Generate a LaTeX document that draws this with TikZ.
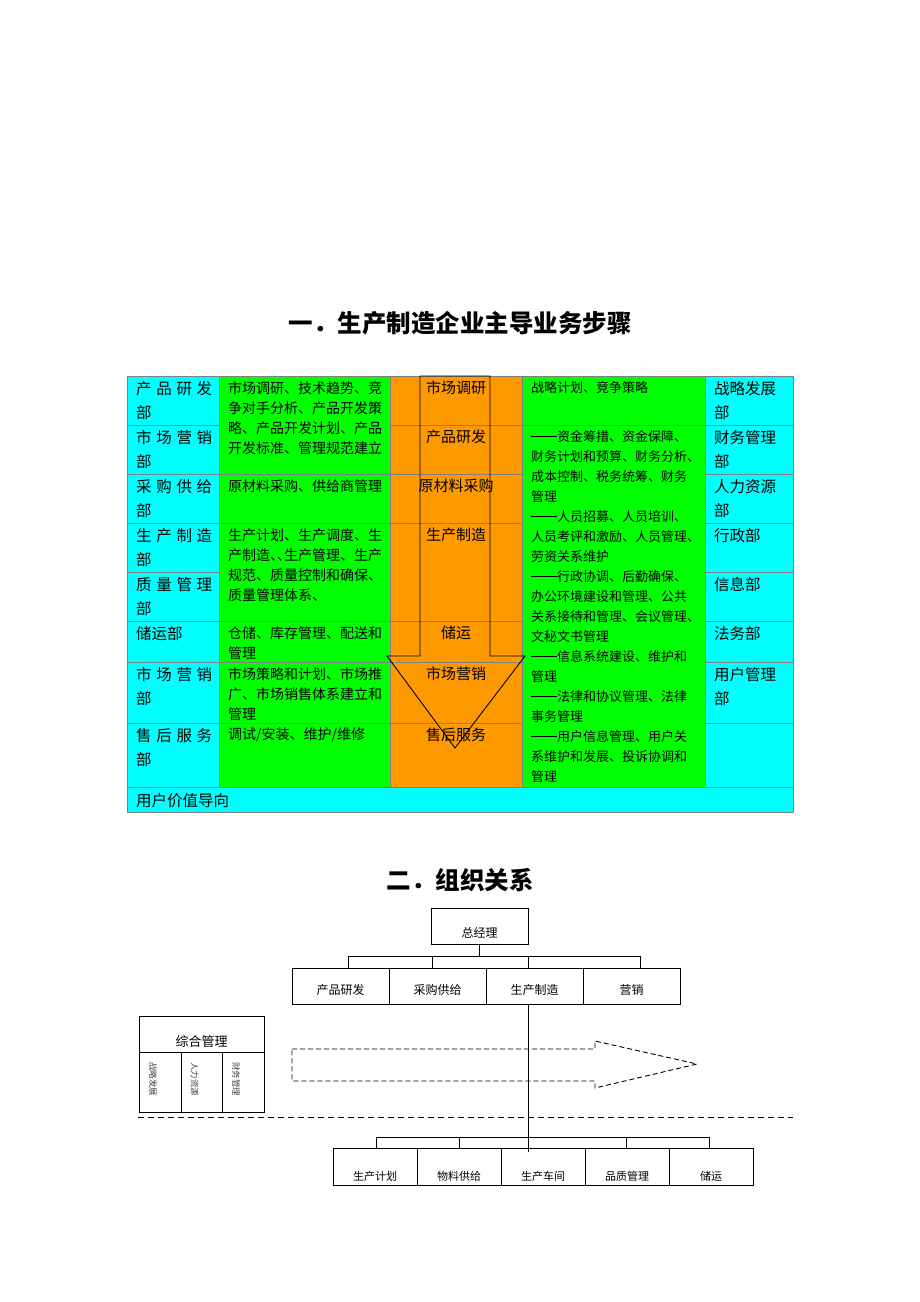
\documentclass[tikz,border=0pt]{standalone}
\usepackage{fontspec}
\setmainfont{Noto Sans CJK SC}
\usetikzlibrary{positioning}
\definecolor{cyanc}{RGB}{0,255,255}
\definecolor{greenc}{RGB}{0,255,0}
\definecolor{orangec}{RGB}{255,153,0}
\newcommand\spr[4]{\makebox[76pt]{#1\hfill #2\hfill #3\hfill #4}}
\newcommand\dsh{\rule[4.6pt]{26pt}{0.6pt}}

\begin{document}
\begin{tikzpicture}[x=1pt,y=-1pt,
 cell/.style = {draw=gray, line width=0.9pt, inner sep=0pt, outer sep=0pt, anchor=north west},
 cy/.style = {cell, fill=cyanc},
 gr/.style = {cell, fill=greenc},
 og/.style = {cell, fill=orangec},
 dept/.style = {anchor=north west, inner sep=0pt, align=left, font=\fontsize{15.5}{24}\selectfont},
 work/.style = {anchor=north west, inner sep=0pt, align=left, font=\fontsize{14}{20}\selectfont},
 duty/.style = {anchor=north west, inner sep=0pt, align=left, font=\fontsize{13}{20}\selectfont},
 stage/.style = {anchor=north, inner sep=0pt, font=\fontsize{15}{20}\selectfont},
 head/.style = {font=\fontsize{24.5}{24}\selectfont\bfseries},
 box/.style = {draw, line width=0.8pt, inner sep=0pt, outer sep=0pt, anchor=north west, text depth=0pt},
 unit/.style = {box, minimum width=97pt, minimum height=36pt, text height=17pt, font=\fontsize{12}{12}\selectfont},
 sub/.style = {box, minimum width=84pt, minimum height=37pt, text height=27pt, font=\fontsize{11}{11}\selectfont},
 tiny/.style = {rotate=-90, inner sep=0pt, text=gray!50!black, font=\fontsize{8.5}{9}\selectfont}]
\useasboundingbox (0,0) rectangle (920,1302);

% titles
\node[head] (title1) at (460,323) {一．生产制造企业主导业务步骤};
\node[head] (title2) at (460,880) {二．组织关系};

% table cells
\node[cy, minimum width=92pt, minimum height=49pt] (a1) at (127,376) {};
\node[cy, minimum width=92pt, minimum height=49pt] (a2) at (127,425) {};
\node[cy, minimum width=92pt, minimum height=49pt] (a3) at (127,474) {};
\node[cy, minimum width=92pt, minimum height=49pt] (a4) at (127,523) {};
\node[cy, minimum width=92pt, minimum height=49pt] (a5) at (127,572) {};
\node[cy, minimum width=92pt, minimum height=41pt] (a6) at (127,621) {};
\node[cy, minimum width=92pt, minimum height=61pt] (a7) at (127,662) {};
\node[cy, minimum width=92pt, minimum height=64pt] (a8) at (127,723) {};
\node[gr, minimum width=171pt, minimum height=98pt] (b1) at (219,376) {};
\node[gr, minimum width=171pt, minimum height=49pt] (b2) at (219,474) {};
\node[gr, minimum width=171pt, minimum height=98pt] (b3) at (219,523) {};
\node[gr, minimum width=171pt, minimum height=41pt] (b4) at (219,621) {};
\node[gr, minimum width=171pt, minimum height=61pt] (b5) at (219,662) {};
\node[gr, minimum width=171pt, minimum height=64pt] (b6) at (219,723) {};
\node[og, minimum width=132pt, minimum height=49pt] (c1) at (390,376) {};
\node[og, minimum width=132pt, minimum height=49pt] (c2) at (390,425) {};
\node[og, minimum width=132pt, minimum height=49pt] (c3) at (390,474) {};
\node[og, minimum width=132pt, minimum height=98pt] (c4) at (390,523) {};
\node[og, minimum width=132pt, minimum height=41pt] (c5) at (390,621) {};
\node[og, minimum width=132pt, minimum height=61pt] (c6) at (390,662) {};
\node[og, minimum width=132pt, minimum height=64pt] (c7) at (390,723) {};
\node[gr, minimum width=183pt, minimum height=49pt] (d1) at (522,376) {};
\node[gr, minimum width=183pt, minimum height=362pt] (d2) at (522,425) {};
\node[cy, minimum width=88pt, minimum height=49pt] (e1) at (705,376) {};
\node[cy, minimum width=88pt, minimum height=49pt] (e2) at (705,425) {};
\node[cy, minimum width=88pt, minimum height=49pt] (e3) at (705,474) {};
\node[cy, minimum width=88pt, minimum height=49pt] (e4) at (705,523) {};
\node[cy, minimum width=88pt, minimum height=49pt] (e5) at (705,572) {};
\node[cy, minimum width=88pt, minimum height=41pt] (e6) at (705,621) {};
\node[cy, minimum width=88pt, minimum height=61pt] (e7) at (705,662) {};
\node[cy, minimum width=88pt, minimum height=64pt] (e8) at (705,723) {};
\node[cy, minimum width=666pt, minimum height=25pt] (f1) at (127,787) {};

% big arrow
\draw[line width=0.9pt] (420,376) -- (420,656) -- (387,656) -- (455,748) -- (525,656) -- (490,656) -- (490,376) -- cycle;

% left departments
\node[dept] (ta1) at ([shift={(9pt,-5pt)}]a1.north west) {\spr 产品研发\\部};
\node[dept] (ta2) at ([shift={(9pt,-5pt)}]a2.north west) {\spr 市场营销\\部};
\node[dept] (ta3) at ([shift={(9pt,-5pt)}]a3.north west) {\spr 采购供给\\部};
\node[dept] (ta4) at ([shift={(9pt,-5pt)}]a4.north west) {\spr 生产制造\\部};
\node[dept] (ta5) at ([shift={(9pt,-5pt)}]a5.north west) {\spr 质量管理\\部};
\node[dept] (ta6) at ([shift={(9pt,-5pt)}]a6.north west) {储运部};
\node[dept] (ta7) at ([shift={(9pt,-5pt)}]a7.north west) {\spr 市场营销\\部};
\node[dept] (ta8) at ([shift={(9pt,-5pt)}]a8.north west) {\spr 售后服务\\部};
\node[dept] (tf1) at ([shift={(9pt,-6pt)}]f1.north west) {用户价值导向};

% main work
\node[work] (tb1) at ([shift={(9pt,-5pt)}]b1.north west) {市场调研、技术趋势、竞\\争对手分析、产品开发策\\略、产品开发计划、产品\\开发标准、管理规范建立};
\node[work] (tb2) at ([shift={(9pt,-5pt)}]b2.north west) {原材料采购、供给商管理};
\node[work] (tb3) at ([shift={(9pt,-5pt)}]b3.north west) {生产计划、生产调度、生\\产制造、\kern-7pt、\kern-7pt 生产管理、生产\\规范、质量控制和确保、\\质量管理体系、};
\node[work] (tb4) at ([shift={(9pt,-5pt)}]b4.north west) {仓储、库存管理、配送和\\管理};
\node[work] (tb5) at ([shift={(9pt,-5pt)}]b5.north west) {市场策略和计划、市场推\\广、市场销售体系建立和\\管理};
\node[work] (tb6) at ([shift={(9pt,-5pt)}]b6.north west) {调试/安装、维护/维修};

% steps
\node[stage] (tc1) at ([yshift=-5pt]c1.north) {市场调研};
\node[stage] (tc2) at ([yshift=-5pt]c2.north) {产品研发};
\node[stage] (tc3) at ([yshift=-5pt]c3.north) {原材料采购};
\node[stage] (tc4) at ([yshift=-5pt]c4.north) {生产制造};
\node[stage] (tc5) at ([yshift=-5pt]c5.north) {储运};
\node[stage] (tc6) at ([yshift=-5pt]c6.north) {市场营销};
\node[stage] (tc7) at ([yshift=-5pt]c7.north) {售后服务};

% support duties
\node[duty] (td1) at ([shift={(9pt,-5pt)}]d1.north west) {战略计划、竞争策略};
\node[duty] (td2) at ([shift={(9pt,-5pt)}]d2.north west) {\dsh 资金筹措、资金保障、\\财务计划和预算、财务分析、\\成本控制、税务统筹、财务\\管理\\\dsh 人员招募、人员培训、\\人员考评和激励、人员管理、\\劳资关系维护\\\dsh 行政协调、后勤确保、\\办公环境建设和管理、公共\\关系接待和管理、会议管理、\\文秘文书管理\\\dsh 信息系统建设、维护和\\管理\\\dsh 法律和协议管理、法律\\事务管理\\\dsh 用户信息管理、用户关\\系维护和发展、投诉协调和\\管理};

% right departments
\node[dept] (te1) at ([shift={(9pt,-5pt)}]e1.north west) {战略发展\\部};
\node[dept] (te2) at ([shift={(9pt,-5pt)}]e2.north west) {财务管理\\部};
\node[dept] (te3) at ([shift={(9pt,-5pt)}]e3.north west) {人力资源\\部};
\node[dept] (te4) at ([shift={(9pt,-5pt)}]e4.north west) {行政部};
\node[dept] (te5) at ([shift={(9pt,-5pt)}]e5.north west) {信息部};
\node[dept] (te6) at ([shift={(9pt,-5pt)}]e6.north west) {法务部};
\node[dept] (te7) at ([shift={(9pt,-5pt)}]e7.north west) {用户管理\\部};

% org chart
\node[box, minimum width=97pt, minimum height=36pt, text height=22pt, font=\fontsize{12}{12}\selectfont] (gm) at (431,908) {总经理};
\node[unit] (p1) at (292,968) {产品研发};
\node[unit] (p2) [right=0pt of p1] {采购供给};
\node[unit] (p3) [right=0pt of p2] {生产制造};
\node[unit] (p4) [right=0pt of p3] {营销};
\foreach \v/\x/\n in {v1/348/p1, v2/432/p2, v3/528/p3, v4/640/p4} {
  \coordinate (\v) at (\x,956);
  \draw[line width=0.8pt] (\v) -- (\v |- \n.north);
}
\draw[line width=0.8pt] (v1) -- (v4);
\draw[line width=0.8pt] (gm.south) -- (gm.south |- v1);

\node[sub] (q1) at (333,1148) {生产计划};
\node[sub] (q2) [right=0pt of q1] {物料供给};
\node[sub] (q3) [right=0pt of q2] {生产车间};
\node[sub] (q4) [right=0pt of q3] {品质管理};
\node[sub] (q5) [right=0pt of q4] {储运};
\foreach \x/\n in {376/q1, 459/q2, 626/q4, 709/q5} {
  \coordinate (w\n) at (\x,1137);
  \draw[line width=0.8pt] (w\n) -- (w\n |- \n.north);
}
\draw[line width=0.8pt] (wq1) -- (wq5);
\coordinate (mid) at (528,1152);
\draw[line width=0.8pt] (v3 |- p3.south) -- (mid);

% general management
\node[box, minimum width=125pt, minimum height=36pt, text height=25pt, font=\fontsize{13}{13}\selectfont] (zh) at (139,1016) {综合管理};
\node[box, minimum width=42pt, minimum height=60pt] (s1) at (zh.south west) {};
\node[box, minimum width=41pt, minimum height=60pt] (s2) [right=0pt of s1] {};
\node[box, minimum width=42pt, minimum height=60pt] (s3) [right=0pt of s2] {};
\node[tiny] (l1) at ([shift={(-7pt,3pt)}]s1.center) {战略发展};
\node[tiny] (l2) at ([shift={(-7pt,3pt)}]s2.center) {人力资源};
\node[tiny] (l3) at ([shift={(-7pt,3pt)}]s3.center) {财务管理};

% dashed arrow and divider
\draw[line width=0.9pt, dash pattern=on 5pt off 3pt] (292,1049) -- (595,1049) -- (595,1041) -- (697,1064) -- (595,1088) -- (595,1081) -- (292,1081) -- cycle;
\coordinate (dl) at (138,1117);
\coordinate (dr) at (793,1117);
\draw[line width=0.8pt, dash pattern=on 6pt off 4pt] (dl) -- (dr);
\end{tikzpicture}
\end{document}
